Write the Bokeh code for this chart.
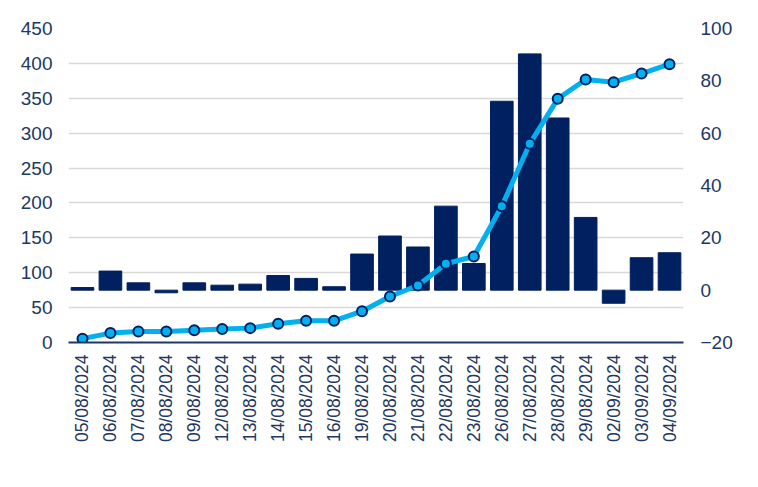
import math
from bokeh.plotting import figure
from bokeh.models import (ColumnDataSource, FactorRange, Range1d, LinearAxis,
                          FixedTicker, Legend, LegendItem)
from bokeh.embed import file_html
from bokeh.resources import INLINE

dates = ["05/08/2024", "06/08/2024", "07/08/2024", "08/08/2024", "09/08/2024",
         "12/08/2024", "13/08/2024", "14/08/2024", "15/08/2024", "16/08/2024",
         "19/08/2024", "20/08/2024", "21/08/2024", "22/08/2024", "23/08/2024",
         "26/08/2024", "27/08/2024", "28/08/2024", "29/08/2024", "02/09/2024",
         "03/09/2024", "04/09/2024"]

# Açık Pozisyon Değişimi (Bin) - bars, right axis
degisim = [1.0, 7.3, 2.8, -1.0, 2.8, 1.9, 2.3, 5.6, 4.5, 1.3,
           13.8, 20.7, 16.5, 32.1, 10.2, 72.2, 90.3, 65.8, 27.8, -5.0,
           12.4, 14.3]

# Açık Pozisyon Sayısı (Bin) - line, left axis
sayi = [5.5, 13.5, 15.8, 15.8, 17.4, 19.3, 20.6, 26.8, 31.1, 31.1,
        44.9, 65.9, 81.7, 112.8, 123.2, 195.3, 284.7, 349.2, 376.9, 373.0,
        385.5, 398.8]

left_ticks = [0, 50, 100, 150, 200, 250, 300, 350, 400, 450]
right_ticks = [-20, 0, 20, 40, 60, 80, 100]

NAVY = "#002060"
CYAN = "#00B0F0"
TXT = "#203864"
FONT = "Liberation Sans"

src = ColumnDataSource(dict(x=dates, bar=degisim, line=sayi))

p = figure(frame_width=615, frame_height=314,
           x_range=FactorRange(*dates, range_padding=0),
           y_range=Range1d(0, 450), output_backend="svg", toolbar_location=None,
           min_border_left=68, min_border_right=67, min_border_top=28,
           min_border_bottom=0)
p.extra_y_ranges = {"right": Range1d(-20, 100)}
p.outline_line_color = None
p.background_fill_color = "white"
p.border_fill_color = "white"

bars = p.vbar(x="x", top="bar", bottom=0, width=0.81, source=src,
              y_range_name="right", fill_color=NAVY, line_color=NAVY,
              line_width=1)

ln = p.line(x="x", y="line", source=src, line_color=CYAN, line_width=5)
pts = p.scatter(x="x", y="line", source=src, size=10, fill_color=CYAN,
                line_color=NAVY, line_width=2)

# left axis
ya = p.yaxis[0]
ya.ticker = FixedTicker(ticks=left_ticks)
ya.axis_line_color = None
ya.major_tick_line_color = None
ya.minor_tick_line_color = None
ya.major_tick_out = 0
ya.minor_tick_out = 0
ya.major_label_standoff = 16
ya.major_label_text_font = FONT
ya.major_label_text_font_size = "19px"
ya.major_label_text_color = TXT

# right axis
ra = LinearAxis(y_range_name="right", ticker=FixedTicker(ticks=right_ticks))
ra.axis_line_color = None
ra.major_tick_line_color = None
ra.minor_tick_line_color = None
ra.major_tick_out = 0
ra.minor_tick_out = 0
ra.major_label_standoff = 17
ra.major_label_text_font = FONT
ra.major_label_text_font_size = "19px"
ra.major_label_text_color = TXT
p.add_layout(ra, "right")

# x axis
xa = p.xaxis[0]
xa.axis_line_color = "#1F3864"
xa.axis_line_width = 2
xa.major_tick_line_color = None
xa.major_tick_out = 0
xa.minor_tick_out = 0
xa.minor_tick_line_color = None
xa.major_label_orientation = math.pi / 2
xa.major_label_standoff = 12
xa.major_label_text_font = FONT
xa.major_label_text_font_size = "17.5px"
xa.major_label_text_color = TXT

p.xgrid.grid_line_color = None
p.ygrid.grid_line_color = "#D9D9D9"
p.ygrid.grid_line_width = 1.5

legend = Legend(items=[
    LegendItem(label="Açık Pozisyon Değişimi (Bin)", renderers=[bars]),
    LegendItem(label="Açık Pozisyon Sayısı (Bin)", renderers=[ln, pts]),
], orientation="horizontal", location="top_right", margin=0, padding=0,
    spacing=64, glyph_width=46, glyph_height=9, label_standoff=3,
    label_text_font=FONT, label_text_font_size="17px",
    label_text_color=TXT, border_line_color=None,
    background_fill_alpha=0)
p.add_layout(legend, "below")

open("out.html", "w").write(file_html(p, INLINE))
